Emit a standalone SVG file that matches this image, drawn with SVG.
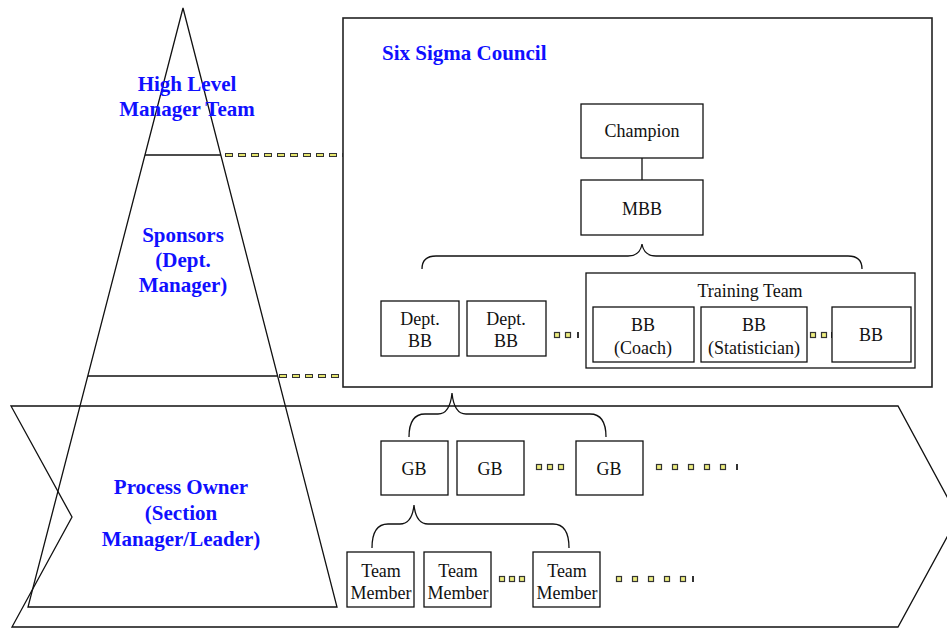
<svg xmlns="http://www.w3.org/2000/svg" xmlns:xlink="http://www.w3.org/1999/xlink" width="947" height="628" viewBox="0 0 947 628">
<style>
.ln{fill:none;stroke:#111;stroke-width:1.3}
.box{fill:#fff;stroke:#111;stroke-width:1.3}
.lbl{font-family:"Liberation Serif","Times New Roman",serif;font-size:21px;font-weight:bold;fill:#1010ff;text-anchor:middle}
.t{font-family:"Liberation Serif","Times New Roman",serif;font-size:18px;fill:#111;text-anchor:middle}
.dk{stroke:#333;stroke-width:4;fill:none}
.yl{stroke:#e6e670;stroke-width:2;fill:none}
</style>
<defs>
<rect id="sq" x="-2.5" y="-2.5" width="5" height="5" fill="#eeee80" stroke="#333" stroke-width="1.2"/>
<rect id="bar" x="-1" y="-3" width="2" height="6" fill="#333"/>
</defs>
<rect width="947" height="628" fill="#fff"/>

<g id="chevron">
<polygon class="ln" points="11,406 898,406 958,517 898,627 12,627 72,517"/>
</g>
<g id="pyramid">
<polygon class="ln" points="183,8 337,607 28,607"/>
<line class="ln" x1="145" y1="155" x2="221" y2="155"/>
<line class="ln" x1="88" y1="376" x2="277" y2="376"/>
</g>
<g id="council">
<rect x="343" y="18" width="589" height="369" fill="none" stroke="#222" stroke-width="1.6"/>
<text class="lbl" x="382" y="60" style="text-anchor:start">Six Sigma Council</text>
</g>

<g id="labels">
<text class="lbl" x="187" y="91">High Level</text>
<text class="lbl" x="187" y="116">Manager Team</text>
<text class="lbl" x="183" y="242">Sponsors</text>
<text class="lbl" x="183" y="267">(Dept.</text>
<text class="lbl" x="183" y="292">Manager)</text>
<text class="lbl" x="181" y="494">Process Owner</text>
<text class="lbl" x="181" y="520">(Section</text>
<text class="lbl" x="181" y="546">Manager/Leader)</text>
</g>

<g id="connectors">
<line class="ln" x1="642" y1="158" x2="642" y2="180"/>
<path class="ln" d="M422,269 Q422,256 436,256 L628,256 Q640,256 642,244 Q644,256 656,256 L848,256 Q862,256 862,269"/>
<path class="ln" d="M409,437 Q409,414 425,414 L438,414 Q450,414 452,393 Q454,414 466,414 L590,414 Q606,414 606,437"/>
<path class="ln" d="M372,548 Q372,524 388,524 L400,524 Q412,524 414,505 Q416,524 428,524 L553,524 Q569,524 569,548"/>
<line class="dk" x1="225" y1="155" x2="343" y2="155" stroke-dasharray="8 5"/>
<line class="yl" x1="226" y1="155" x2="343" y2="155" stroke-dasharray="6 7"/>
<line class="dk" x1="279" y1="376" x2="343" y2="376" stroke-dasharray="8 5"/>
<line class="yl" x1="280" y1="376" x2="343" y2="376" stroke-dasharray="6 7"/>
</g>

<g id="champion"><rect class="box" x="581" y="104" width="122" height="54"/><text class="t" x="642" y="137">Champion</text></g>
<g id="mbb"><rect class="box" x="581" y="180" width="122" height="55"/><text class="t" x="642" y="215">MBB</text></g>
<g id="deptbb1"><rect class="box" x="381" y="301" width="78" height="55"/><text class="t" x="420" y="325">Dept.</text><text class="t" x="420" y="347">BB</text></g>
<g id="deptbb2"><rect class="box" x="467" y="301" width="79" height="55"/><text class="t" x="506" y="325">Dept.</text><text class="t" x="506" y="347">BB</text></g>
<g id="dots1"><use href="#sq" x="557" y="335"/><use href="#sq" x="568" y="335"/><use href="#bar" x="578" y="335"/></g>
<g id="training"><rect class="box" x="586" y="273" width="329" height="95"/><text class="t" x="750" y="297">Training Team</text></g>
<g id="bbcoach"><rect class="box" x="593" y="307" width="101" height="55"/><text class="t" x="643" y="331">BB</text><text class="t" x="643" y="354">(Coach)</text></g>
<g id="bbstat"><rect class="box" x="701" y="307" width="106" height="55"/><text class="t" x="754" y="331">BB</text><text class="t" x="754" y="354">(Statistician)</text></g>
<g id="dots2"><use href="#sq" x="813" y="335"/><use href="#sq" x="824" y="335"/><use href="#bar" x="832" y="335"/></g>
<g id="bb3"><rect class="box" x="832" y="307" width="79" height="55"/><text class="t" x="871" y="341">BB</text></g>

<g id="gb1"><rect class="box" x="381" y="441" width="67" height="54"/><text class="t" x="414" y="475">GB</text></g>
<g id="gb2"><rect class="box" x="457" y="441" width="67" height="54"/><text class="t" x="490" y="475">GB</text></g>
<g id="gb3"><rect class="box" x="576" y="441" width="67" height="54"/><text class="t" x="609" y="475">GB</text></g>
<g id="dots3"><use href="#sq" x="539" y="467"/><use href="#sq" x="550" y="467"/><use href="#sq" x="561" y="467"/></g>
<g id="dots4"><use href="#sq" x="659" y="467"/><use href="#sq" x="675" y="467"/><use href="#sq" x="691" y="467"/><use href="#sq" x="707" y="467"/><use href="#sq" x="723" y="467"/><use href="#bar" x="737" y="467"/></g>

<g id="tm1"><rect class="box" x="347" y="552" width="67" height="55"/><text class="t" x="381" y="577">Team</text><text class="t" x="381" y="599">Member</text></g>
<g id="tm2"><rect class="box" x="424" y="552" width="67" height="55"/><text class="t" x="458" y="577">Team</text><text class="t" x="458" y="599">Member</text></g>
<g id="tm3"><rect class="box" x="533" y="552" width="67" height="55"/><text class="t" x="567" y="577">Team</text><text class="t" x="567" y="599">Member</text></g>
<g id="dots5"><use href="#sq" x="502" y="579"/><use href="#sq" x="512" y="579"/><use href="#sq" x="522" y="579"/></g>
<g id="dots6"><use href="#sq" x="619" y="579"/><use href="#sq" x="635" y="579"/><use href="#sq" x="651" y="579"/><use href="#sq" x="667" y="579"/><use href="#sq" x="683" y="579"/><use href="#bar" x="693" y="579"/></g>
</svg>
